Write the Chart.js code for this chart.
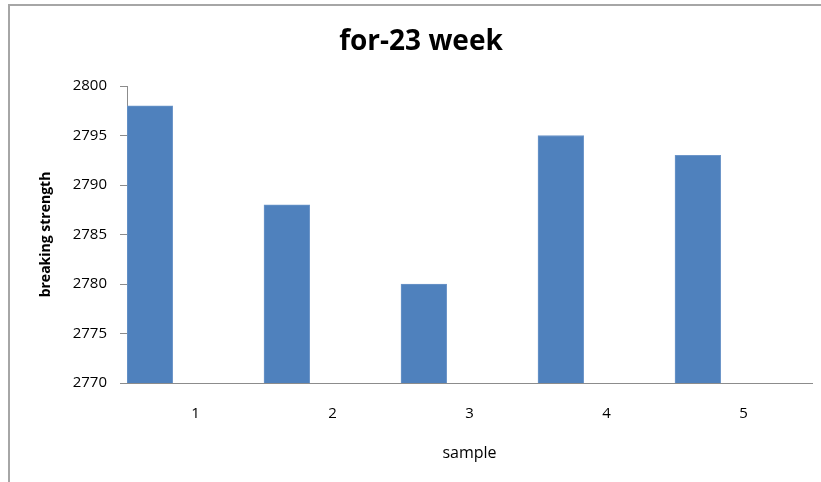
<!DOCTYPE html>
<html>
<head>
<meta charset="utf-8">
<script src="https://cdn.jsdelivr.net/npm/chart.js@4/dist/chart.umd.min.js"></script>
<style>
  html, body { margin: 0; padding: 0; background: #fff; }
  #wrap { width: 821px; height: 482px; position: relative; }
</style>
</head>
<body>
<div id="wrap"><canvas id="c" width="821" height="482"></canvas></div>
<script>
const categories = ['1', '2', '3', '4', '5'];
const breakingStrength = [2798, 2788, 2780, 2795, 2793];
const emptySeriesA = [null, null, null, null, null];
const emptySeriesB = [null, null, null, null, null];
const yMin = 2770, yMax = 2800, yStep = 5;
const titleText = 'for-23 week';
const xTitle = 'sample';
const yTitle = 'breaking strength';

const FONT = "'Open Sans', 'Liberation Sans', sans-serif";

const framePlugin = {
  id: 'frame',
  beforeDraw(chart) {
    const ctx = chart.ctx;
    ctx.save();
    ctx.fillStyle = '#ffffff';
    ctx.fillRect(0, 0, chart.width, chart.height);
    ctx.strokeStyle = '#a6a6a6';
    ctx.lineWidth = 2;
    ctx.beginPath();
    ctx.moveTo(9, chart.height);
    ctx.lineTo(9, 5);
    ctx.lineTo(chart.width, 5);
    ctx.stroke();
    ctx.restore();
  }
};

new Chart(document.getElementById('c'), {
  type: 'bar',
  data: {
    labels: categories,
    datasets: [
      { label: 'breaking strength', data: breakingStrength, backgroundColor: '#4f81bd', borderColor: '#6d96c9', borderWidth: 1 },
      { label: 'series 2', data: emptySeriesA, backgroundColor: '#c0504d' },
      { label: 'series 3', data: emptySeriesB, backgroundColor: '#9bbb59' }
    ]
  },
  options: {
    responsive: false,
    animation: false,
    events: [],
    layout: { padding: { left: 30, right: 9, top: 0, bottom: 0 } },
    datasets: { bar: { categoryPercentage: 1.0, barPercentage: 1.0 } },
    plugins: {
      legend: { display: false },
      tooltip: { enabled: false },
      title: {
        display: true,
        text: titleText,
        color: '#000',
        font: { family: FONT, size: 28, weight: 'bold', lineHeight: 1.2 },
        padding: { top: 25, bottom: 27.4 }
      }
    },
    scales: {
      x: {
        grid: { display: false, drawTicks: false },
        border: { display: true, color: '#8c8c8c', width: 1 },
        ticks: { color: '#000', font: { family: FONT, size: 15 }, padding: 22, maxRotation: 0 },
        title: { display: true, text: xTitle, color: '#000', font: { family: FONT, size: 16 }, padding: { top: 4, bottom: 19 } },
        afterFit(scale) { scale.height = 99; }
      },
      y: {
        min: yMin,
        max: yMax,
        grid: { display: true, drawOnChartArea: false, drawTicks: true, tickLength: 7, color: '#8c8c8c' },
        border: { display: true, color: '#8c8c8c', width: 1 },
        ticks: { stepSize: yStep, color: '#000', font: { family: FONT, size: 15 }, padding: 13, callback: (v) => String(v) },
        title: { display: true, text: yTitle, color: '#000', font: { family: FONT, size: 14, weight: 'bold' }, padding: { top: 8, bottom: 4 } },
        afterFit(scale) { scale.width = 97; }
      }
    }
  },
  plugins: [framePlugin]
});
</script>
</body>
</html>
